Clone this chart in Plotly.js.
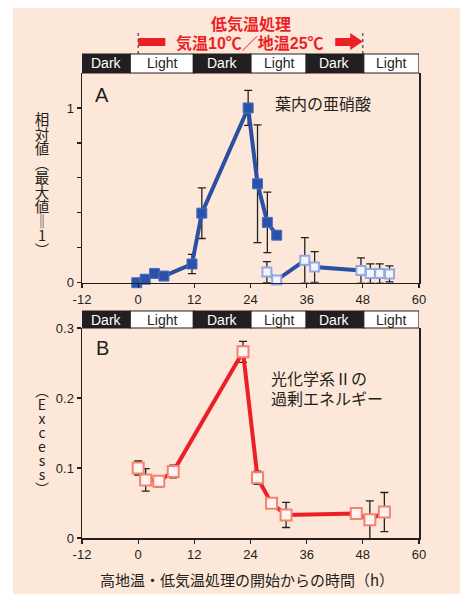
<!DOCTYPE html>
<html><head><meta charset="utf-8">
<script src="https://cdn.plot.ly/plotly-3.0.1.min.js"></script>
<style>html,body{margin:0;padding:0;background:#fff}#chart{width:467px;height:594px}</style>
</head><body><div id="chart"></div>
<script>
// ---- data ----
const nitriteHoursFilled = [-0.3, 1.5, 3.5, 5.5, 11.5, 13.6, 23.5, 25.5, 27.6, 29.6];
const nitriteValFilled   = [0, 0.02, 0.053, 0.038, 0.107, 0.398, 1.0, 0.566, 0.345, 0.272];
const nitriteErrFilled   = [0, 0, 0, 0, 0.055, 0.145, 0.10, 0.337, 0.173, 0];
const nitriteHoursOpen = [27.5, 29.6, 35.6, 37.7, 47.6, 49.6, 51.6, 53.7];
const nitriteValOpen   = [0.061, 0.015, 0.128, 0.09, 0.07, 0.053, 0.053, 0.05];
const nitriteErrOpen   = [0.06, 0, 0.13, 0.088, 0.072, 0.055, 0.055, 0.046];
const excessHours = [0, 1.6, 4.4, 7.5, 22.4, 25.5, 28.5, 31.6, 46.6, 49.5, 52.6];
const excessVal   = [0.1, 0.083, 0.081, 0.095, 0.266, 0.086, 0.0495, 0.033, 0.035, 0.026, 0.037];
const excessErr   = [0.01, 0.016, 0.008, 0.009, 0.015, 0.0095, 0, 0.018, 0, 0.027, 0.028];
const phaseBounds = [-12, -1.7, 11.8, 24.1, 35.9, 48.2, 60];
const phaseLabels = ['Dark','Light','Dark','Light','Dark','Light'];
const xTickVals = [-12, 0, 12, 24, 36, 48, 60];
const xTickText = ['-12','0','12','24','36','48','60'];
const yTickValsA = [0, 0.2, 0.4, 0.6, 0.8, 1.0];
const yTickTextA = ['0','','','','','1'];
const yTickValsB = [0, 0.1, 0.2, 0.3];
const yTickTextB = ['0','0.1','0.2','0.3'];
const treatStart = 0, treatEnd = 48;
const titleA = '相対値︵最大値‖1︶';
const titleB = '︵Excess︶';

// ---- layout helpers ----
const W = 467, H = 594;
const px = v => v / W, py = v => 1 - v / H;
const JP = '"Noto Sans CJK JP", "Noto Sans", sans-serif';
const LAT = '"Liberation Sans", Arial, "Noto Sans CJK JP", sans-serif';
const blue = '#2a4fa3', red = '#ec1f27';

const errStyle = arr => ({type:'data', array:arr, visible:true, color:'#222', thickness:1.3, width:4});

const traces = [
  {x:nitriteHoursFilled, y:nitriteValFilled, xaxis:'x', yaxis:'y', mode:'lines+markers',
   line:{color:blue, width:4}, marker:{symbol:'square', size:10, color:'#2b52a8', line:{color:'#4a6fc0', width:1}},
   error_y:errStyle(nitriteErrFilled), cliponaxis:false},
  {x:nitriteHoursOpen, y:nitriteValOpen, xaxis:'x', yaxis:'y', mode:'lines+markers',
   line:{color:blue, width:4}, marker:{symbol:'square', size:9, color:'#f3f5fc', line:{color:'#93a9e3', width:2}},
   error_y:errStyle(nitriteErrOpen), cliponaxis:false},
  {x:excessHours, y:excessVal, xaxis:'x2', yaxis:'y2', mode:'lines+markers',
   line:{color:red, width:4}, marker:{symbol:'square', size:11, color:'#fff4ef', line:{color:'#f3836f', width:2}},
   error_y:errStyle(excessErr), cliponaxis:false}
];

const domA = [py(282.7), py(73)], domB = [py(538), py(328)];
const axisCommon = {showgrid:false, zeroline:false, showline:true, linecolor:'#231f20', linewidth:1.5,
  ticks:'outside', ticklen:4, tickcolor:'#231f20', tickwidth:1.2,
  tickfont:{family:LAT, size:13, color:'#231f20'}, fixedrange:true};

const layout = {
  width:W, height:H, margin:{l:0,r:0,t:0,b:0}, showlegend:false,
  paper_bgcolor:'#ffffff', plot_bgcolor:'rgba(0,0,0,0)',
  xaxis: Object.assign({}, axisCommon, {domain:[px(82), px(419)], range:[-12,60], anchor:'y',
         tickmode:'array', tickvals:xTickVals, ticktext:xTickText}),
  yaxis: Object.assign({}, axisCommon, {domain:domA, range:[0,1.2], anchor:'x', mirror:true,
         tickmode:'array', tickvals:yTickValsA, ticktext:yTickTextA}),
  xaxis2: Object.assign({}, axisCommon, {domain:[px(82), px(419)], range:[-12,60], anchor:'y2',
         tickmode:'array', tickvals:xTickVals, ticktext:xTickText}),
  yaxis2: Object.assign({}, axisCommon, {domain:domB, range:[0,0.3], anchor:'x2', mirror:true,
         tickmode:'array', tickvals:yTickValsB, ticktext:yTickTextB}),
  shapes: [], annotations: []
};

// background
layout.shapes.push({type:'rect', xref:'paper', yref:'paper', x0:px(13), x1:px(460), y0:0, y1:py(8),
  fillcolor:'#fde7d9', line:{width:0}, layer:'below'});

// phase bars
[[py(73), py(54), 'x'], [py(328), py(311), 'x2']].forEach(([y0, y1, xr]) => {
  for (let i = 0; i < phaseLabels.length; i++) {
    const dark = phaseLabels[i] === 'Dark';
    layout.shapes.push({type:'rect', xref:xr, yref:'paper', x0:phaseBounds[i], x1:phaseBounds[i+1], y0:y0, y1:y1,
      fillcolor: dark ? '#231f20' : '#ffffff', line:{color:'#231f20', width:1.2}});
    layout.annotations.push({xref:xr, yref:'paper', x:(phaseBounds[i]+phaseBounds[i+1])/2, y:(y0+y1)/2,
      text:phaseLabels[i], showarrow:false, xanchor:'center', yanchor:'middle',
      font:{family:LAT, size:14, color: dark ? '#ffffff' : '#231f20'}});
  }
});

// treatment markers (dotted lines, red bar and arrow)
[treatStart, treatEnd].forEach(t => layout.shapes.push({type:'line', xref:'x', yref:'paper', x0:t, x1:t,
  y0:py(54), y1:py(30), line:{color:'#231f20', width:1, dash:'dot'}}));
layout.shapes.push({type:'rect', xref:'x', yref:'paper', x0:treatStart, x1:treatStart+5.8, y0:py(46), y1:py(38),
  fillcolor:red, line:{width:0}});
{
  const a = treatEnd - 5.9, b = treatEnd - 2.7, c = treatEnd;
  const yb1 = py(38), yb2 = py(46), yh1 = py(33), yh2 = py(50), ym = py(41.5);
  layout.shapes.push({type:'path', xref:'x', yref:'paper',
    path:`M ${a},${yb1} L ${b},${yb1} L ${b},${yh1} L ${c},${ym} L ${b},${yh2} L ${b},${yb2} L ${a},${yb2} Z`,
    fillcolor:red, line:{width:0}});
}

const ann = (x, y, text, size, opts) => layout.annotations.push(Object.assign({xref:'paper', yref:'paper',
  x:px(x), y:py(y), text:text, showarrow:false, xanchor:'center', yanchor:'middle',
  font:{family:JP, size:size, color:'#231f20'}}, opts || {}));

ann(251, 23.5, '<b>低気温処理</b>', 16, {font:{family:LAT, size:16, color:red}});
ann(250, 42.5, '<b>気温10℃／地温25℃</b>', 16, {font:{family:LAT, size:16, color:red}});
ann(102, 95, 'A', 20, {font:{family:LAT, size:20, color:'#231f20'}});
ann(102, 348, 'B', 20, {font:{family:LAT, size:20, color:'#231f20'}});
ann(323, 103, '葉内の亜硝酸', 16);
ann(269, 379.5, '光化学系Ⅱの', 16, {xanchor:'left', font:{family:LAT, size:16, color:'#231f20'}});
ann(269, 399, '過剰エネルギー', 16, {xanchor:'left', font:{family:LAT, size:16, color:'#231f20'}});
ann(247, 579, '高地温・低気温処理の開始からの時間（h）', 15);
// vertical axis titles (set upright in a vertical writing mode after drawing)
ann(42, 185, titleA, 14.5);
ann(42, 440, titleB, 14);
const verticalTargets = {};
verticalTargets[titleA] = {x:42, y:185};
verticalTargets[titleB] = {x:42, y:440};

Plotly.newPlot('chart', traces, layout, {staticPlot:true, displayModeBar:false}).then(gd => {
  const root = gd.getBoundingClientRect();
  gd.querySelectorAll('text.annotation-text').forEach(t => {
    const target = verticalTargets[t.textContent];
    if (!target) return;
    t.style.writingMode = 'vertical-rl';
    t.style.textOrientation = 'upright';
    t.setAttribute('text-anchor', 'middle');
    const bb = t.getBoundingClientRect();
    const dx = target.x - (bb.left - root.left + bb.width / 2);
    const dy = target.y - (bb.top - root.top + bb.height / 2);
    const prev = t.getAttribute('transform') || '';
    t.setAttribute('transform', prev + ` translate(${dx},${dy})`);
  });
});
</script></body></html>
